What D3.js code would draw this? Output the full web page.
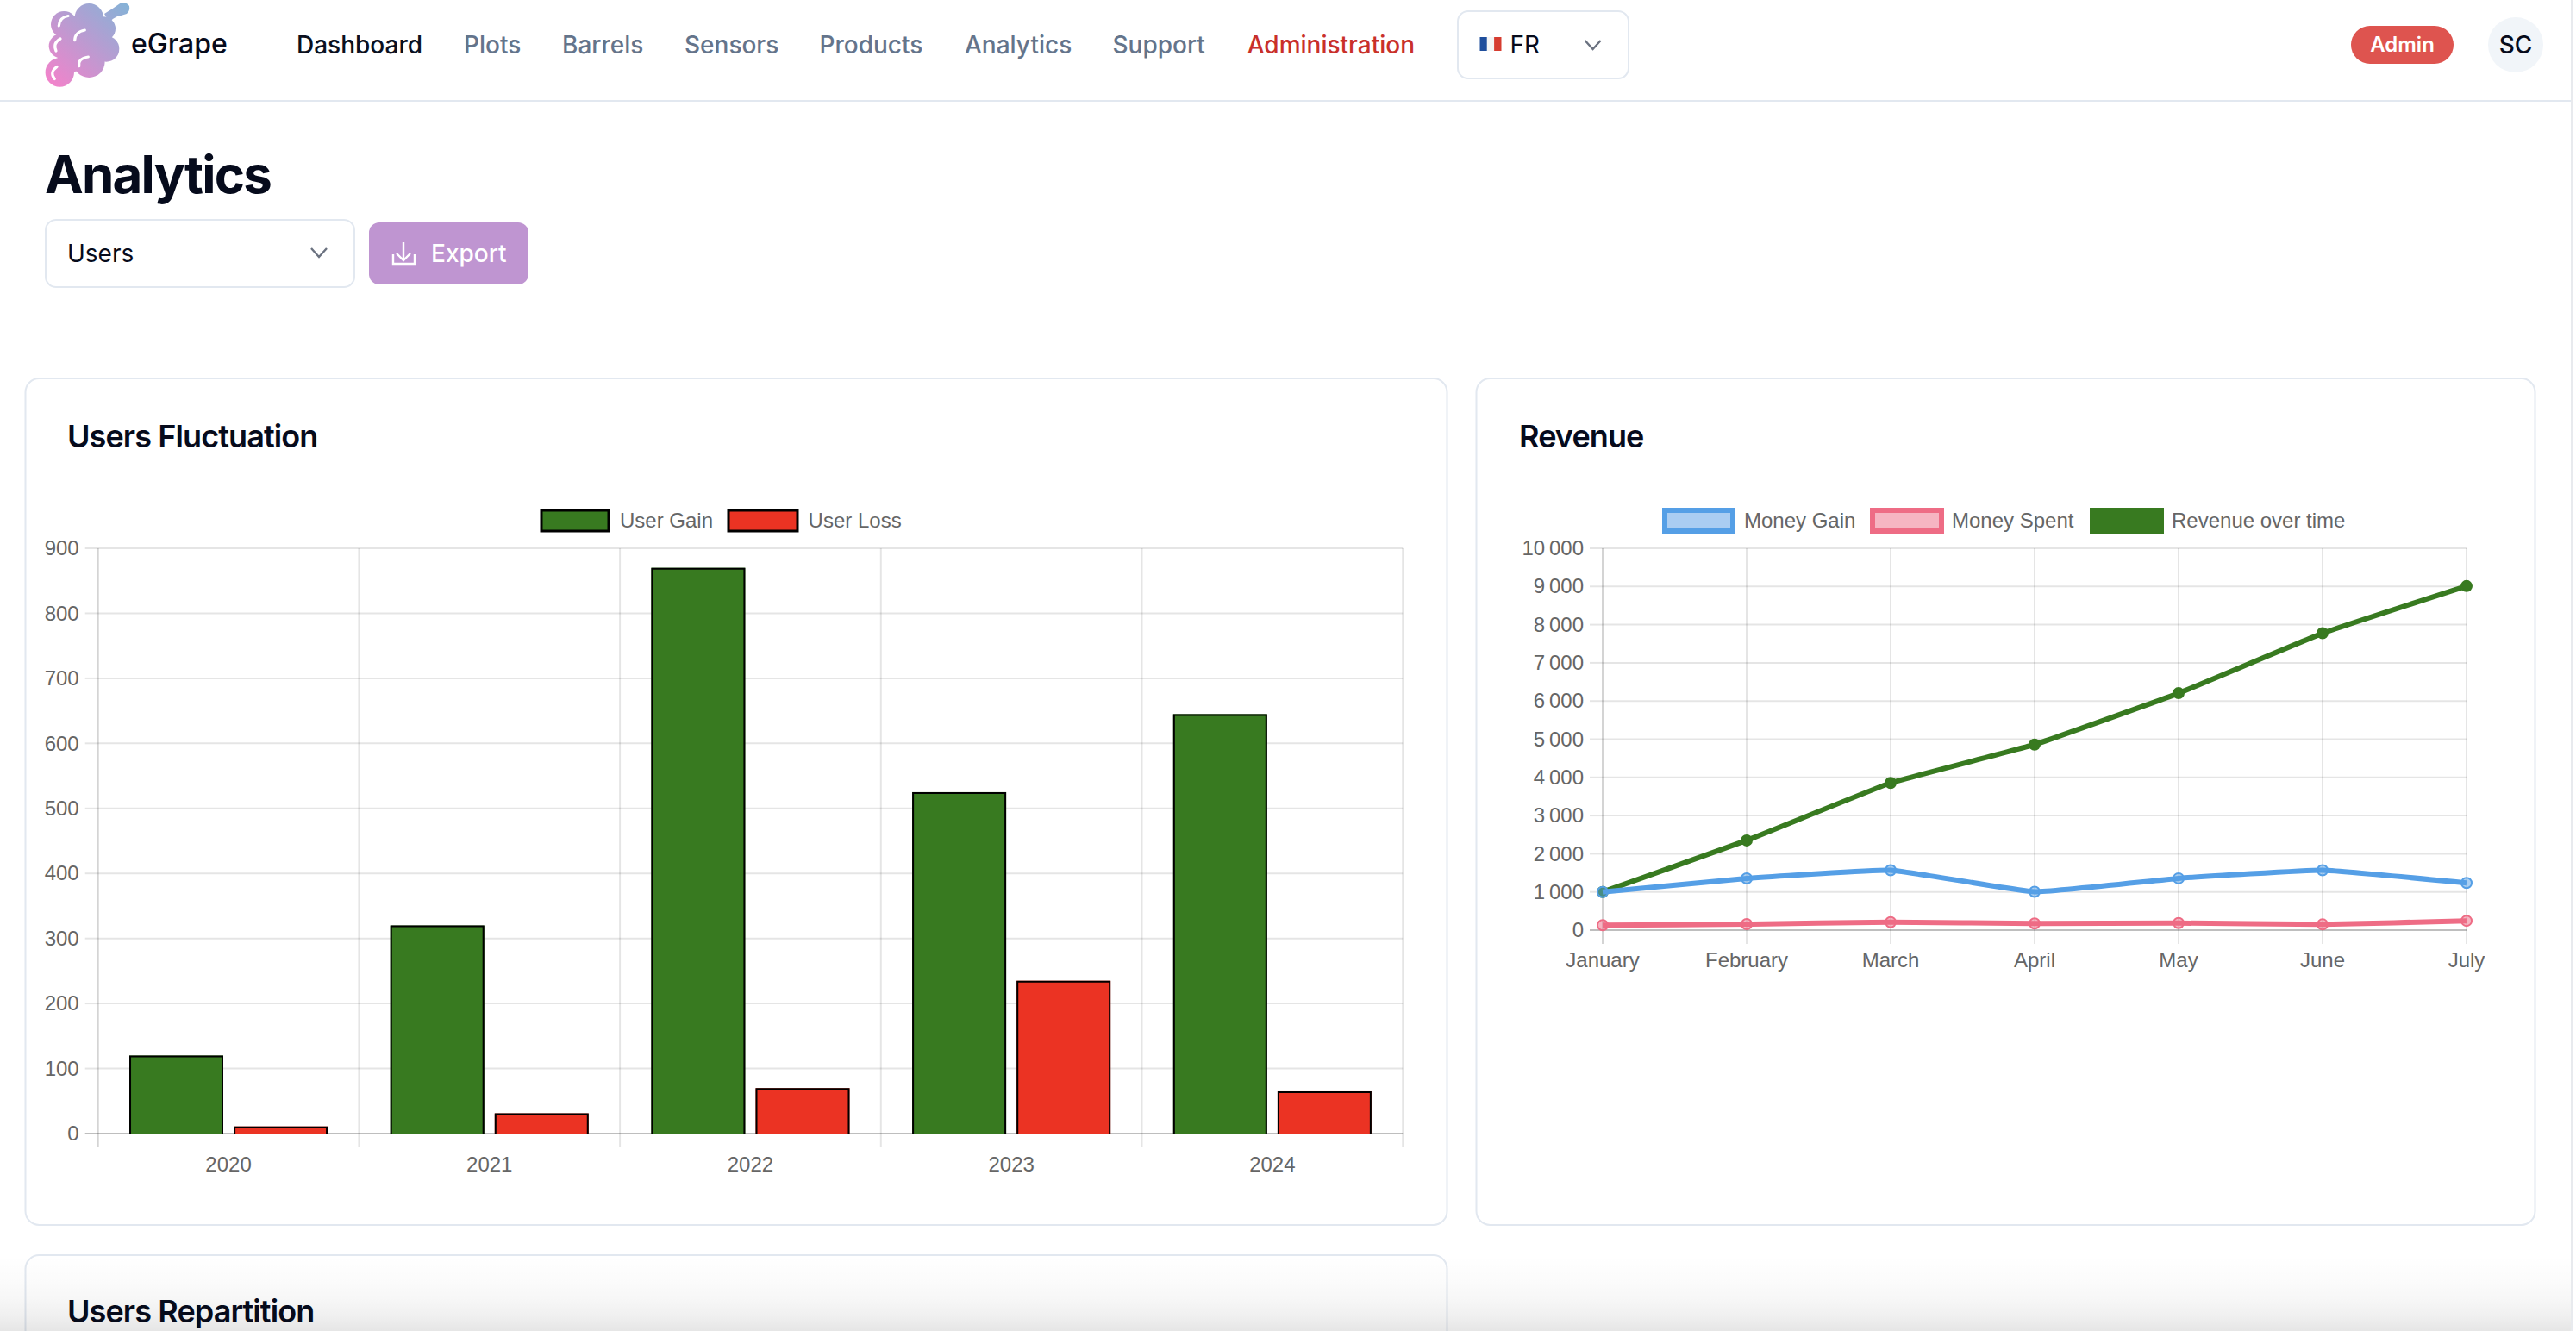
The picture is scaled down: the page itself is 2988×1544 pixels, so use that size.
<!DOCTYPE html>
<html>
<head>
<meta charset="utf-8">
<script src="https://cdn.jsdelivr.net/npm/d3@7"></script>
<style>
html,body{margin:0;padding:0;background:#fff;overflow:hidden}
svg{display:block}
text{font-family:Inter,"Noto Sans",sans-serif}
.chart text{font-family:"Liberation Sans",Arial,sans-serif;fill:#666;font-size:24px}
.tick text{font-family:"Liberation Sans",Arial,sans-serif}
</style>
</head>
<body>
<script>
// ---- data ----
const years = ["2020","2021","2022","2023","2024"];
const userGain = [120,320,870,525,645];
const userLoss = [11,31,70,235,65];
const months = ["January","February","March","April","May","June","July"];
const moneyGain = [1000,1355,1570,1005,1357,1570,1235];
const moneySpent = [130,158,210,175,187,150,245];
const revenueOverTime = [1000,2350,3855,4860,6205,7775,9010];
const usersTicks = [0,100,200,300,400,500,600,700,800,900];
const revenueTicks = [0,1000,2000,3000,4000,5000,6000,7000,8000,9000,10000];
const navItems = ["Dashboard","Plots","Barrels","Sensors","Products","Analytics","Support","Administration"];
const navX = [344,538,652,794,950.5,1119,1290.5,1446.7];
const navColors = ["#0b1020","#64748b","#64748b","#64748b","#64748b","#64748b","#64748b","#c9302a"];
const cardTitles = ["Users Fluctuation","Revenue","Users Repartition"];

const GREEN="#387a20", RED="#eb3323", BLUE="#559fe6", PINK="#ee6c85";
const INK="#060b1c";

const svg = d3.select("body").append("svg").attr("width",2988).attr("height",1544);
const defs = svg.append("defs");

// ---- logo ----
const lg = defs.append("linearGradient").attr("id","grape").attr("gradientUnits","userSpaceOnUse")
  .attr("x1",62).attr("y1",100).attr("x2",150).attr("y2",4);
lg.append("stop").attr("offset",0).attr("stop-color","#f283cb");
lg.append("stop").attr("offset",1).attr("stop-color","#83b3d7");
const logo = svg.append("g");
const logoCircles = [[74.3,28.3,15.3],[70.7,53.3,14],[69.3,84,16.7],[103.3,20.7,16.7],[120,33.3,14],[123.3,56.7,15],[103.3,71.7,18.3],[96.7,46.7,30],[83.3,66.7,16.7]];
logo.selectAll("circle").data(logoCircles).join("circle")
  .attr("cx",d=>d[0]).attr("cy",d=>d[1]).attr("r",d=>d[2]).attr("fill","url(#grape)");
logo.append("path").attr("d","M121 16 Q131 10 140 3.5 Q147 2 150 7 Q151 13 147 16 Q141 18 136 19 Q131 21 127 26 Z").attr("fill","url(#grape)");
logo.append("g").attr("fill","none").attr("stroke","#fff").attr("stroke-width",3.2).attr("stroke-linecap","round")
  .selectAll("path").data([
    "M68.3 30 Q69 20 79 18.5","M65 59 Q61 50 70 45","M63.3 91.5 Q57 84 66 77.5",
    "M86.7 46.7 Q87 37 98.3 35","M91.7 76.7 Q90 68 102.3 66"])
  .join("path").attr("d",d=>d);

// ---- header ----
svg.append("text").attr("x",152).attr("y",61.7).attr("font-size",32).attr("font-weight",500).attr("fill",INK).text("eGrape");
svg.append("g").selectAll("text").data(navItems).join("text")
  .attr("x",(d,i)=>navX[i]).attr("y",61.7).attr("font-size",28).attr("font-weight",500)
  .attr("fill",(d,i)=>navColors[i]).text(d=>d);
svg.append("rect").attr("x",0).attr("y",116).attr("width",2982).attr("height",2).attr("fill","#e2e8f0");

function chevron(cx,cy){
  svg.append("path").attr("d",`M${cx-9} ${cy-5} L${cx} ${cy+5} L${cx+9} ${cy-5}`)
    .attr("fill","none").attr("stroke","#6b7280").attr("stroke-width",2.4);
}
svg.append("rect").attr("x",1691).attr("y",13).attr("width",198).attr("height",78).attr("rx",12)
  .attr("fill","#fff").attr("stroke","#e2e8f0").attr("stroke-width",2);
[["#1f4e9c",0],["#f4f4f4",8.3],["#d63c30",16.6]].forEach(([c,dx])=>{
  svg.append("rect").attr("x",1716.5+dx).attr("y",43).attr("width",8.4).attr("height",16).attr("fill",c);
});
svg.append("text").attr("x",1751.5).attr("y",61.7).attr("font-size",28).attr("fill",INK).text("FR");
chevron(1847.6,52);

svg.append("rect").attr("x",2727).attr("y",30).attr("width",119).attr("height",44).attr("rx",22).attr("fill","#de544f");
svg.append("text").attr("x",2786.5).attr("y",60).attr("text-anchor","middle").attr("font-size",24).attr("font-weight",600).attr("fill","#fff").text("Admin");
svg.append("circle").attr("cx",2918).attr("cy",52).attr("r",32).attr("fill","#f1f5f9");
svg.append("text").attr("x",2918).attr("y",62).attr("text-anchor","middle").attr("font-size",28).attr("font-weight",500).attr("fill",INK).text("SC");

// ---- page heading ----
svg.append("text").attr("x",52).attr("y",224).attr("font-size",60).attr("font-weight",700).attr("letter-spacing","-0.03em").attr("fill",INK).text("Analytics");
svg.append("rect").attr("x",53).attr("y",255).attr("width",358).attr("height",78).attr("rx",12)
  .attr("fill","#fff").attr("stroke","#e2e8f0").attr("stroke-width",2);
svg.append("text").attr("x",78).attr("y",304).attr("font-size",28).attr("fill",INK).text("Users");
chevron(370,293);
svg.append("rect").attr("x",428).attr("y",258).attr("width",185).attr("height",72).attr("rx",12).attr("fill","#bf95d1");
svg.append("path").attr("d","M468 281 V301 M460 294 L468 302 L476 294 M456 295 V306 H481 V295")
  .attr("fill","none").attr("stroke","#fff").attr("stroke-width",2.4);
svg.append("text").attr("x",500).attr("y",304).attr("font-size",28).attr("font-weight",500).attr("fill","#fff").text("Export");

// ---- cards ----
const cards = [
  {x:29.5,y:439,w:1649,h:982,t:cardTitles[0],tx:78,ty:519},
  {x:1712.5,y:439,w:1228,h:982,t:cardTitles[1],tx:1762,ty:519},
  {x:29.5,y:1456,w:1649,h:200,t:cardTitles[2],tx:78,ty:1534.3}
];
cards.forEach(c=>{
  svg.append("rect").attr("x",c.x).attr("y",c.y).attr("width",c.w).attr("height",c.h).attr("rx",16)
    .attr("fill","#fff").attr("stroke","#e2e8f0").attr("stroke-width",2);
  svg.append("text").attr("x",c.tx).attr("y",c.ty).attr("font-size",36).attr("font-weight",600).attr("letter-spacing","-0.025em").attr("fill",INK).text(c.t);
});

// ---- shared axis drawing ----
const fmt = d3.formatLocale({decimal:",",thousands:"\u202f",grouping:[3],currency:["","€"]}).format(",d");
function axes(g,y,ticks,w,h){
  const gridY = g.append("g").call(d3.axisLeft(y).offset(0).tickValues(ticks).tickSize(-w).tickFormat(""));
  gridY.select(".domain").remove();
  gridY.selectAll("line").attr("stroke","rgba(0,0,0,0.1)").attr("stroke-width",2);
  const left = g.append("g").call(d3.axisLeft(y).offset(0).tickValues(ticks).tickSize(15).tickPadding(7).tickFormat(fmt));
  left.select(".domain").remove();
  left.selectAll("line").attr("stroke","rgba(0,0,0,0.1)").attr("stroke-width",2);
  left.selectAll("text").attr("font-size",24).attr("fill","#666").attr("dy","0.34em");
  g.append("line").attr("x1",0).attr("x2",0).attr("y1",0).attr("y2",h+16).attr("stroke","rgba(0,0,0,0.17)").attr("stroke-width",2);
  g.append("line").attr("x1",-15).attr("x2",w).attr("y1",h).attr("y2",h).attr("stroke","rgba(0,0,0,0.17)").attr("stroke-width",2);
}

// ---- Users Fluctuation ----
{
  const m = {l:113.7,t:636,w:1513.5,h:679};
  const g = svg.append("g").attr("class","chart").attr("transform",`translate(${m.l},${m.t})`);
  const x0 = d3.scaleBand().domain(years).range([0,m.w]);
  const xInner = d3.scaleBand().domain([0,1]).range([0,x0.bandwidth()*0.8]);
  const y = d3.scaleLinear().domain([0,900]).range([m.h,0]);
  axes(g,y,usersTicks,m.w,m.h);
  // vertical grid at band edges
  const edges = years.map(d=>x0(d)).concat([m.w]);
  g.append("g").selectAll("line").data(edges.slice(1)).join("line")
    .attr("x1",d=>d).attr("x2",d=>d).attr("y1",0).attr("y2",m.h+16)
    .attr("stroke","rgba(0,0,0,0.1)").attr("stroke-width",2);
  const bottom = g.append("g").attr("transform",`translate(0,${m.h})`)
    .call(d3.axisBottom(x0).offset(0).tickSize(0).tickPadding(27));
  bottom.select(".domain").remove();
  bottom.selectAll("text").attr("font-size",24).attr("fill","#666");
  const series = [{v:userGain,c:GREEN},{v:userLoss,c:RED}];
  const barW = xInner.bandwidth()*0.9, pad = xInner.bandwidth()*0.05;
  series.forEach((s,si)=>{
    const bx = (d,i)=>x0(years[i])+x0.bandwidth()*0.1+xInner(si)+pad;
    const bars = g.append("g");
    bars.selectAll("rect").data(s.v).join("rect")
      .attr("x",bx).attr("y",d=>y(d)).attr("width",barW).attr("height",d=>m.h-y(d)).attr("fill",s.c);
    bars.selectAll("path").data(s.v).join("path")
      .attr("d",(d,i)=>`M${bx(d,i)+1} ${m.h} V${y(d)+1} H${bx(d,i)+barW-1} V${m.h}`)
      .attr("fill","none").attr("stroke","#000").attr("stroke-width",2);
  });
}

// ---- Revenue ----
{
  const m = {l:1859,t:636,w:1002,h:443};
  const g = svg.append("g").attr("class","chart").attr("transform",`translate(${m.l},${m.t})`);
  const x = d3.scalePoint().domain(months).range([0,m.w]);
  const y = d3.scaleLinear().domain([0,10000]).range([m.h,0]);
  axes(g,y,revenueTicks,m.w,m.h);
  g.append("g").selectAll("line").data(months.slice(1)).join("line")
    .attr("x1",d=>x(d)).attr("x2",d=>x(d)).attr("y1",0).attr("y2",m.h+16)
    .attr("stroke","rgba(0,0,0,0.1)").attr("stroke-width",2);
  const bottom = g.append("g").attr("transform",`translate(0,${m.h})`)
    .call(d3.axisBottom(x).offset(0).tickSize(0).tickPadding(26));
  bottom.select(".domain").remove();
  bottom.selectAll("text").attr("font-size",24).attr("fill","#666");
  const line = d3.line().x((d,i)=>x(months[i])).y(d=>y(d)).curve(d3.curveCardinal.tension(0.7));
  const series = [
    {v:revenueOverTime,c:GREEN,f:GREEN},
    {v:moneySpent,c:PINK,f:"rgba(238,108,133,0.5)"},
    {v:moneyGain,c:BLUE,f:"rgba(85,159,230,0.5)"}
  ];
  series.forEach(s=>{
    g.append("path").attr("d",line(s.v)).attr("fill","none").attr("stroke",s.c).attr("stroke-width",6);
    g.append("g").selectAll("circle").data(s.v).join("circle")
      .attr("cx",(d,i)=>x(months[i])).attr("cy",d=>y(d)).attr("r",6)
      .attr("fill",s.f).attr("stroke",s.c).attr("stroke-width",2);
  });
}

// ---- legends ----
const legendBars = [
  {n:"User Gain",x:628,w:78,y:592,h:24,f:GREEN,s:"#000",sw:3,tx:719},
  {n:"User Loss",x:845,w:80,y:592,h:24,f:RED,s:"#000",sw:3,tx:937.6},
  {n:"Money Gain",x:1931,w:79,y:592,h:24,f:"#aacdf2",s:BLUE,sw:6,tx:2023},
  {n:"Money Spent",x:2172,w:80,y:592,h:24,f:"#f6b5c2",s:PINK,sw:6,tx:2264},
  {n:"Revenue over time",x:2427,w:80,y:592,h:24,f:GREEN,s:GREEN,sw:6,tx:2519}
];
const lg2 = svg.append("g").attr("class","chart");
legendBars.forEach(d=>{
  lg2.append("rect").attr("x",d.x).attr("y",d.y).attr("width",d.w).attr("height",d.h)
    .attr("fill",d.f).attr("stroke",d.s).attr("stroke-width",d.sw);
  lg2.append("text").attr("x",d.tx).attr("y",611.7).text(d.n);
});

// ---- bottom fade + scrollbar ----
const fade = defs.append("linearGradient").attr("id","fade").attr("x1",0).attr("y1",0).attr("x2",0).attr("y2",1);
[[0,0],[0.35,0.015],[0.6,0.035],[0.8,0.06],[1,0.1]].forEach(([o,a])=>{
  fade.append("stop").attr("offset",o).attr("stop-color","#000").attr("stop-opacity",a);
});
svg.append("rect").attr("x",0).attr("y",1456).attr("width",2982).attr("height",88).attr("fill","url(#fade)");
svg.append("rect").attr("x",2982).attr("y",0).attr("width",2).attr("height",1544).attr("fill","#e8eaee");
</script>
</body>
</html>
